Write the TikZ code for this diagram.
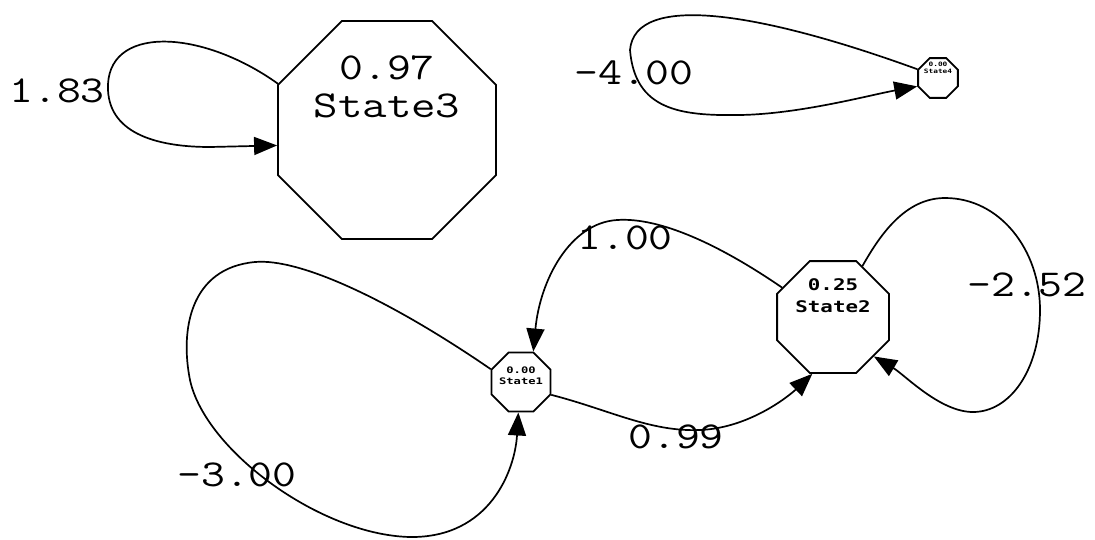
\documentclass[tikz,border=0pt]{standalone}
\usepackage{fontspec}
\usepackage{graphicx}
\usetikzlibrary{shapes.geometric,arrows.meta}
\newfontfamily\dvmono{DejaVu Sans Mono}
\newcommand{\xw}[2][1.22]{\scalebox{#1}[1]{#2}}
\tikzset{
  oct/.style={draw, regular polygon, regular polygon sides=8, inner sep=0pt, line width=1.8pt},
  conn/.style={draw, line width=1.7pt, line join=round, -{Triangle[length=23pt,width=18pt]}},
  lbl/.style={inner sep=0pt, font=\fontsize{38}{40}\selectfont\ttfamily},
  midtxt/.style={inner sep=0pt, font=\fontsize{16}{18}\selectfont\dvmono\bfseries},
  smalltxt/.style={inner sep=0pt, font=\fontsize{9}{10}\selectfont\dvmono\bfseries},
  tinytxt/.style={inner sep=0pt, font=\fontsize{6}{7}\selectfont\dvmono\bfseries},
}
\begin{document}
\begin{tikzpicture}[x=1pt,y=-1pt]
\useasboundingbox[fill=white] (0,0) rectangle (1095,539);
% states
\node[oct, minimum size=236pt] (s3) at (387,130) {};
\node[oct, minimum size=121pt] (s2) at (833,317) {};
\node[oct, minimum size=64pt] (s1) at (521,382) {};
\node[oct, minimum size=43pt] (s4) at (938,78) {};
% state texts
\node[lbl] (s3p) at (387,68) {\xw{0.97}};
\node[lbl] (s3n) at (387,106) {\xw[1.25]{State3}};
\node[midtxt] (s2p) at (833,285) {\xw[1.3]{0.25}};
\node[midtxt] (s2n) at (833,307) {\xw[1.3]{State2}};
\node[smalltxt] (s1p) at (521,370) {\xw[1.35]{0.00}};
\node[smalltxt] (s1n) at (521,381) {\xw[1.35]{State1}};
\node[tinytxt] (s4p) at (938,64) {\xw[1.3]{0.00}};
\node[tinytxt] (s4n) at (938,71) {\xw[1.3]{State4}};
% connectors
\path[conn] (s3.157.5) .. controls (200,28) and (105,25) .. (108,90)
  .. controls (110,135) and (160,147) .. (210,147) -- (s3.188);
\path[conn] (s4.157.5) .. controls (760,12) and (635,-8) .. (630,50)
  .. controls (635,110) and (680,116) .. (740,115)
  .. controls (800,114) and (870,95) .. (s4.202.5);
\path[conn] (s1.157.5) .. controls (390,300) and (300,258) .. (255,262)
  .. controls (190,268) and (180,330) .. (190,380)
  .. controls (205,450) and (320,535) .. (410,537)
  .. controls (490,538) and (515,470) .. (s1.265);
\path[conn] (s2.150) .. controls (720,245) and (660,217) .. (617,220)
  .. controls (570,223) and (540,280) .. (s1.68);
\path[conn] (s1.337.5) .. controls (610,410) and (650,432) .. (700,430)
  .. controls (750,428) and (790,395) .. (s2.250);
\path[conn] (s2.60) .. controls (880,235) and (905,198) .. (945,198)
  .. controls (1000,198) and (1040,250) .. (1040,310)
  .. controls (1040,370) and (1010,412) .. (973,412)
  .. controls (940,412) and (905,375) .. (s2.316);
% edge labels
\node[lbl] (l183) at (57,91) {\xw{1.83}};
\node[lbl] (l400) at (634,73) {\xw{-4.00}};
\node[lbl] (l300) at (237,475) {\xw{-3.00}};
\node[lbl] (l100) at (625,238) {\xw{1.00}};
\node[lbl] (l099) at (676,437) {\xw{0.99}};
\node[lbl] (l252) at (1027,285) {\xw{-2.52}};
\end{tikzpicture}
\end{document}
